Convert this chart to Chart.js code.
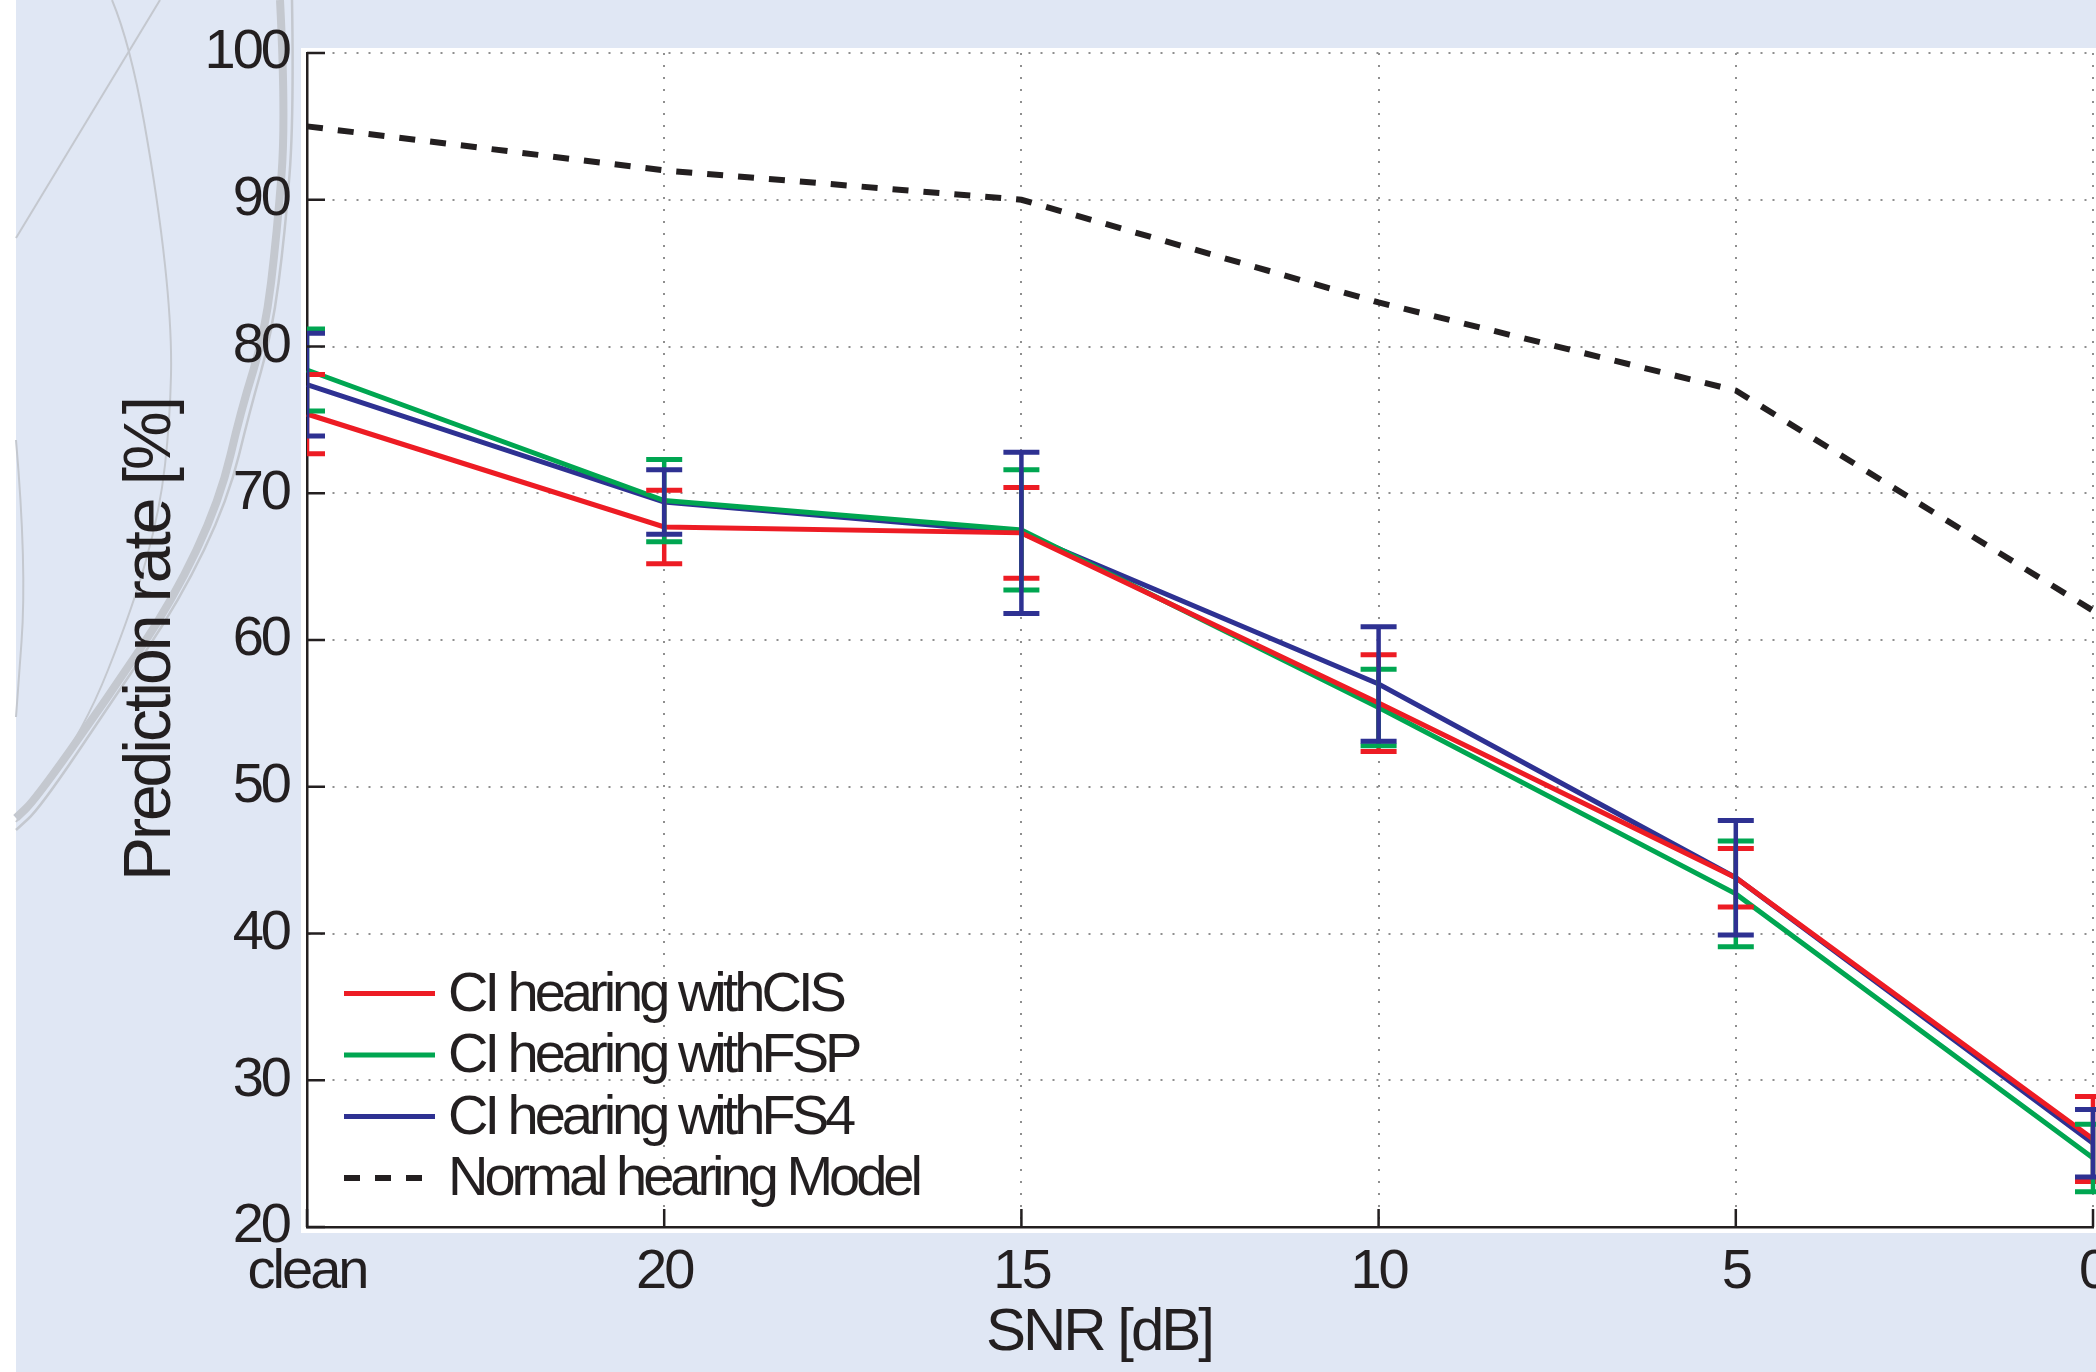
<!DOCTYPE html>
<html>
<head>
<meta charset="utf-8">
<script src="https://cdn.jsdelivr.net/npm/chart.js@4.4.1/dist/chart.umd.min.js"></script>
<style>
    html, body { margin: 0; padding: 0; background: #e0e7f4; }
    #wrap { width: 2096px; height: 1372px; }
</style>
</head>
<body>
<div id="wrap"><canvas id="prediccion" width="2096" height="1372"></canvas></div>
<script>
// valores
const snrLabels = ['clean', '20', '15', '10', '5', '0'];
const cisRate = [75.4, 67.7, 67.3, 55.7, 43.8, 26.0];
const cisErr = [2.7, 2.5, 3.1, 3.3, 2.0, 2.9];
const fspRate = [78.4, 69.5, 67.5, 55.4, 42.7, 24.7];
const fspErr = [2.8, 2.8, 4.1, 2.6, 3.6, 2.3];
const fs4Rate = [77.4, 69.4, 67.3, 57.0, 43.8, 25.7];
const fs4Err = [3.5, 2.2, 5.5, 3.9, 3.9, 2.3];
const normalRate = [95, 92, 90, 83, 77, 62];
const yMin = 20;
const yMax = 100;
const yStep = 10;

const negro = '#231f20';
const fuente = "'Liberation Sans', Arial, sans-serif";

function trazo(ctx, pts) {
    ctx.beginPath();
    ctx.moveTo(pts[0][0], pts[0][1]);
    for (let i = 1; i < pts.length - 1; i++) {
        const mx = (pts[i][0] + pts[i + 1][0]) / 2;
        const my = (pts[i][1] + pts[i + 1][1]) / 2;
        ctx.quadraticCurveTo(pts[i][0], pts[i][1], mx, my);
    }
    const u = pts[pts.length - 1];
    ctx.lineTo(u[0], u[1]);
    ctx.stroke();
}

const fondo = {
    id: 'fondo',
    beforeDraw(chart) {
        const ctx = chart.ctx;
        const a = chart.chartArea;
        ctx.save();
        ctx.fillStyle = '#e0e7f4';
        ctx.fillRect(0, 0, chart.width, chart.height);
        ctx.fillStyle = '#ffffff';
        ctx.fillRect(0, 0, 16, chart.height);
        // adornos grises del fondo (no son datos)
        ctx.strokeStyle = '#c4c8cf';
        ctx.lineWidth = 2;
        ctx.beginPath();
        ctx.moveTo(16, 238);
        ctx.lineTo(160, 0);
        ctx.stroke();
        trazo(ctx, [[112, 0], [130, 43], [158, 200], [172, 330], [170, 420], [160, 510], [133, 607], [83, 733], [16, 822]]);
        trazo(ctx, [[16, 440], [27, 567], [16, 717]]);
        ctx.lineWidth = 8;
        trazo(ctx, [[280, 0], [286, 117], [277, 233], [265, 333], [241, 410], [220, 500], [173, 600], [106, 700], [35, 800], [16, 818]]);
        ctx.lineWidth = 2.5;
        trazo(ctx, [[292, 0], [294, 117], [285, 233], [272, 333], [250, 410], [228, 500], [180, 600], [113, 700], [40, 808], [16, 830]]);
        ctx.fillStyle = '#ffffff';
        ctx.fillRect(a.left - 6, a.top - 5, chart.width, a.bottom - a.top + 11);
        ctx.restore();
        // texto algo mas apretado, como en el original
        ctx.letterSpacing = '-3px';
    }
};

const barrasError = {
    id: 'barrasError',
    afterDatasetsDraw(chart) {
        const ctx = chart.ctx;
        const a = chart.chartArea;
        const yScale = chart.scales.y;
        ctx.save();
        ctx.beginPath();
        ctx.rect(a.left, 0, chart.width - a.left, chart.height);
        ctx.clip();
        chart.data.datasets.forEach(function (ds, i) {
            if (!ds.errores) return;
            const meta = chart.getDatasetMeta(i);
            ctx.strokeStyle = ds.borderColor;
            meta.data.forEach(function (pt, j) {
                const yTop = yScale.getPixelForValue(ds.data[j] + ds.errores[j]);
                const yBot = yScale.getPixelForValue(ds.data[j] - ds.errores[j]);
                ctx.lineWidth = 4.5;
                ctx.beginPath();
                ctx.moveTo(pt.x, yTop);
                ctx.lineTo(pt.x, yBot);
                ctx.stroke();
                ctx.lineWidth = 5;
                ctx.beginPath();
                ctx.moveTo(pt.x - 18, yTop);
                ctx.lineTo(pt.x + 18, yTop);
                ctx.moveTo(pt.x - 18, yBot);
                ctx.lineTo(pt.x + 18, yBot);
                ctx.stroke();
            });
        });
        ctx.restore();
    }
};

const extras = {
    id: 'extras',
    afterDraw(chart) {
        const ctx = chart.ctx;
        const a = chart.chartArea;
        const xs = chart.scales.x;
        const ys = chart.scales.y;
        ctx.save();
        // marcas hacia adentro
        ctx.strokeStyle = negro;
        ctx.lineWidth = 2.5;
        ctx.beginPath();
        ys.ticks.forEach(function (t, i) {
            const y = ys.getPixelForTick(i);
            ctx.moveTo(a.left, y);
            ctx.lineTo(a.left + 18, y);
        });
        xs.ticks.forEach(function (t, i) {
            const x = xs.getPixelForTick(i);
            ctx.moveTo(x, a.bottom);
            ctx.lineTo(x, a.bottom - 18);
        });
        ctx.stroke();

        // leyenda
        const x0 = a.left + 37;
        const x1 = a.left + 128;
        const filaAlto = 61.5;
        const n = chart.data.datasets.length;
        ctx.letterSpacing = '-4px';
        chart.data.datasets.forEach(function (ds, i) {
            const y = a.bottom - 49 - (n - 1 - i) * filaAlto;
            ctx.strokeStyle = ds.borderColor;
            ctx.lineWidth = ds.borderWidth;
            ctx.setLineDash(ds.borderDash || []);
            ctx.beginPath();
            ctx.moveTo(x0, y);
            ctx.lineTo(ds.borderDash ? x1 - 10 : x1, y);
            ctx.stroke();
            ctx.setLineDash([]);
            ctx.fillStyle = negro;
            ctx.font = '56px ' + fuente;
            ctx.textBaseline = 'middle';
            ctx.textAlign = 'left';
            ctx.fillText(ds.label, a.left + 141, y + 2);
        });

        // titulo eje x
        ctx.letterSpacing = '-3px';
        ctx.font = '60px ' + fuente;
        ctx.textAlign = 'center';
        ctx.textBaseline = 'middle';
        ctx.fillText('SNR [dB]', 1099, 1333);
        ctx.restore();
    }
};

const ctx = document.getElementById('prediccion').getContext('2d');
const grafico = new Chart(ctx, {
    type: 'line',
    data: {
        labels: snrLabels,
        datasets: [{
            label: 'CI hearing withCIS',
            data: cisRate,
            errores: cisErr,
            borderColor: '#ed1c24',
            borderWidth: 5
        }, {
            label: 'CI hearing withFSP',
            data: fspRate,
            errores: fspErr,
            borderColor: '#00a651',
            borderWidth: 5
        }, {
            label: 'CI hearing withFS4',
            data: fs4Rate,
            errores: fs4Err,
            borderColor: '#2e3192',
            borderWidth: 5
        }, {
            label: 'Normal hearing Model',
            data: normalRate,
            borderColor: negro,
            borderWidth: 6,
            borderDash: [16, 15]
        }]
    },
    options: {
        responsive: false,
        animation: false,
        devicePixelRatio: 1,
        elements: {
            line: { tension: 0, fill: false },
            point: { radius: 0, hoverRadius: 0 }
        },
        layout: {
            autoPadding: false,
            padding: { top: 53, right: 3, left: 0, bottom: 0 }
        },
        plugins: {
            legend: { display: false },
            tooltip: { enabled: false }
        },
        scales: {
            x: {
                type: 'category',
                offset: false,
                grid: { color: '#8f8f8f', lineWidth: 2, drawTicks: false },
                border: { color: negro, width: 2.5, dash: [2, 10] },
                ticks: {
                    color: negro,
                    font: { family: fuente, size: 56 },
                    padding: 12,
                    autoSkip: false,
                    maxRotation: 0
                },
                afterFit: function (s) {
                    s.height = 145;
                    s.paddingLeft = 0;
                    s.paddingRight = 0;
                }
            },
            y: {
                min: yMin,
                max: yMax,
                grid: { color: '#8f8f8f', lineWidth: 2, drawTicks: false },
                border: { color: negro, width: 2.5, dash: [2, 10] },
                ticks: {
                    stepSize: yStep,
                    color: negro,
                    font: { family: fuente, size: 56 },
                    padding: 18
                },
                title: {
                    display: true,
                    text: 'Prediction rate [%]',
                    color: negro,
                    font: { family: fuente, size: 66 },
                    padding: { top: 112, bottom: 0 }
                },
                afterFit: function (s) {
                    s.width = 307;
                    s.paddingTop = 0;
                    s.paddingBottom = 0;
                }
            }
        }
    },
    plugins: [fondo, barrasError, extras]
});
</script>
</body>
</html>
